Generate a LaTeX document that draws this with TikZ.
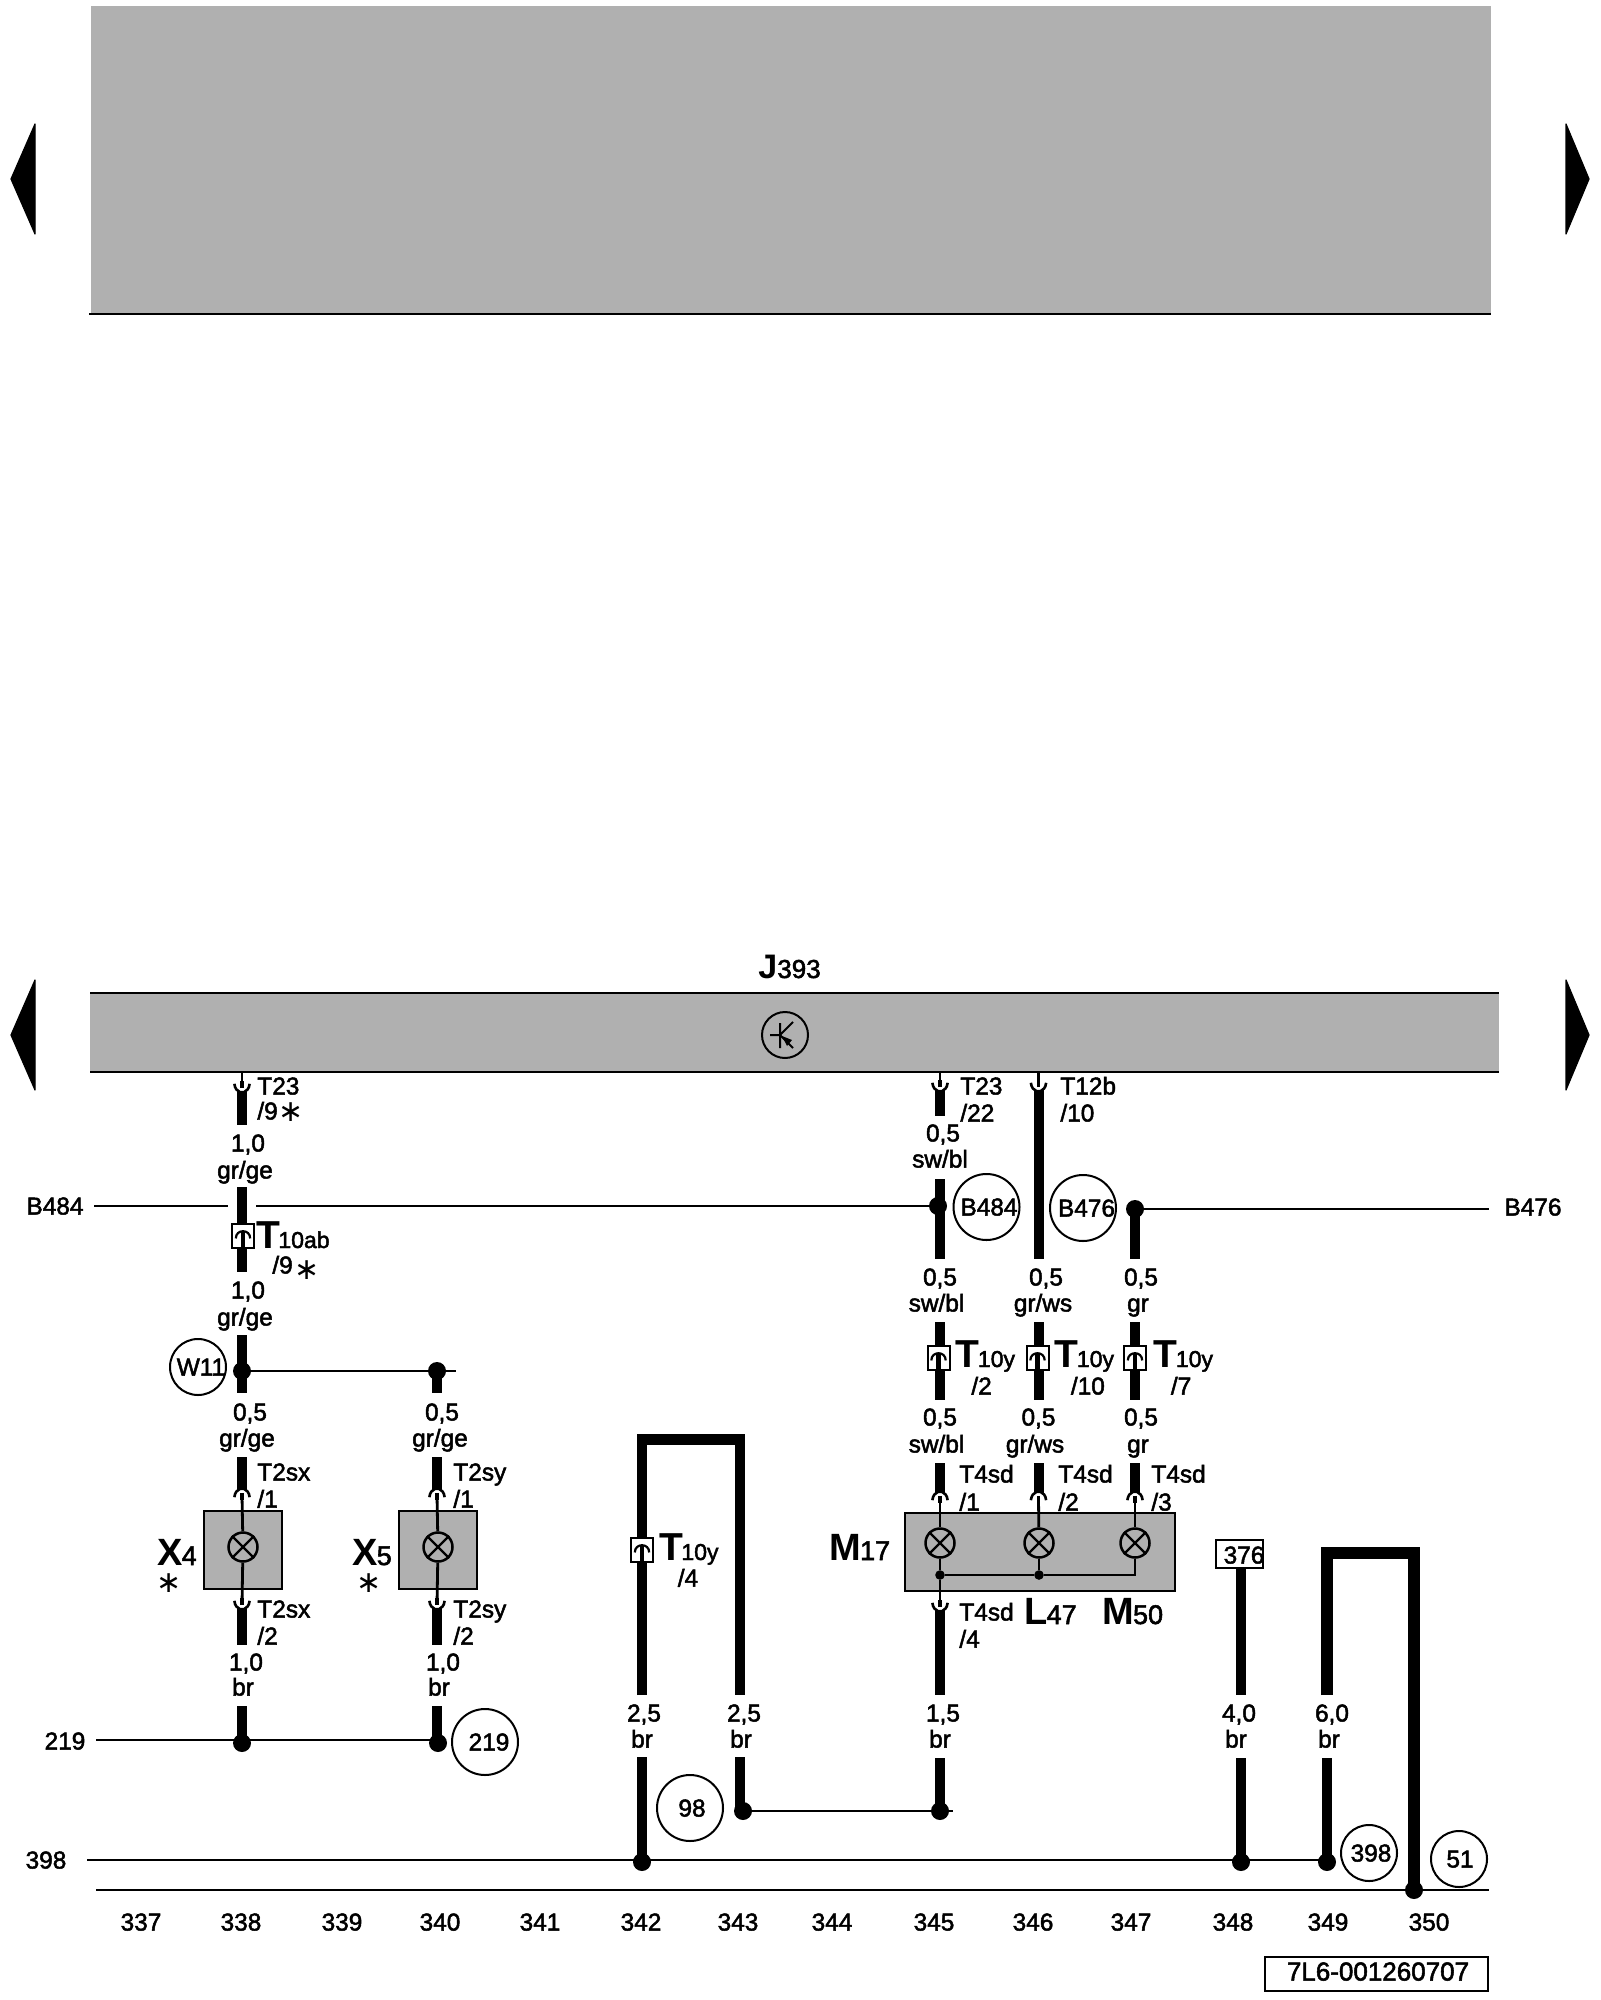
\documentclass[tikz,border=0pt]{standalone}
\usepackage{fontspec}
\setmainfont{Liberation Sans}[FakeBold=2]
\newfontfamily\bigfont{Liberation Sans Bold}
\newfontfamily\symfont{DejaVu Sans}
\definecolor{panel}{HTML}{B0B0B0}
\newcount\nn
\tikzset{
  x=0.5pt,y=-0.5pt,
  wire/.style={line width=5pt,line cap=butt,line join=miter},
  thinw/.style={line width=1.25pt},
  hair/.style={line width=1.4pt},
  dotn/.style={circle,fill=black,inner sep=0,minimum size=9pt},
  smalldot/.style={circle,fill=black,inner sep=0,minimum size=4.8pt},
  ringn/.style={circle,draw,line width=1pt,inner sep=0,minimum size=33pt},
  ringw/.style={circle,draw,line width=1pt,inner sep=0,minimum size=28pt},
  lampn/.style={circle,draw,line width=1.25pt,inner sep=0,minimum size=14.5pt},
  labn/.style={inner sep=0,font=\fontsize{12.2}{14}\selectfont},
  boxg/.style={draw,line width=1pt,fill=panel},
  connb/.style={draw,line width=1pt,fill=white,inner sep=0,minimum width=11pt,minimum height=12pt},
}
\newcommand{\lab}[3]{\global\advance\nn 1 \node[labn,anchor=base] (L\the\nn) at (#1,#2+8.5) {#3};}
\newcommand{\lef}[3]{\global\advance\nn 1 \node[labn,anchor=base west] (L\the\nn) at (#1,#2+8.5) {#3};}
\newcommand{\starm}[2]{\global\advance\nn 1 \node[inner sep=0,anchor=center] (L\the\nn) at (#1,#2) {\symfont\fontsize{15}{15}\selectfont ∗};}
\newcommand{\bigt}[3]{\global\advance\nn 1 \node[inner sep=0,anchor=base west] (L\the\nn) at (#1,#2) {{\bigfont\fontsize{19.5}{20}\selectfont T}\kern-.9pt\fontsize{11.5}{14}\selectfont #3};}
\newcommand{\bigmm}[4]{\global\advance\nn 1 \node[inner sep=0,anchor=base west] (L\the\nn) at (#1,#2) {{\bigfont\fontsize{19}{20}\selectfont #3}\kern-.5pt\fontsize{13.5}{14}\selectfont #4};}
\newcommand{\seg}[4]{\coordinate (#1a) at (#2,#3); \coordinate (#1b) at (#2,#4); \draw[wire] (#1a) -- (#1b);}
\newcommand{\cupdown}[3]{\coordinate (#1t) at (#2,#3);
  \draw[line width=1.3pt] ([xshift=-3.8pt,yshift=3.6pt]#1t) .. controls ([xshift=-3.6pt,yshift=1.2pt]#1t) and ([xshift=-2.4pt]#1t) .. ([xshift=-1pt,yshift=-.6pt]#1t) -- ([xshift=1pt,yshift=-.6pt]#1t) .. controls ([xshift=2.4pt]#1t) and ([xshift=3.6pt,yshift=1.2pt]#1t) .. ([xshift=3.8pt,yshift=3.6pt]#1t);
  \draw[line width=1.8pt] ([yshift=1.4pt]#1t) -- ([yshift=5pt]#1t);}
\newcommand{\cupup}[3]{\coordinate (#1t) at (#2,#3);
  \draw[line width=1.3pt] ([xshift=-3.8pt,yshift=-3.6pt]#1t) .. controls ([xshift=-3.6pt,yshift=-1.2pt]#1t) and ([xshift=-2.4pt]#1t) .. ([xshift=-1pt,yshift=.6pt]#1t) -- ([xshift=1pt,yshift=.6pt]#1t) .. controls ([xshift=2.4pt]#1t) and ([xshift=3.6pt,yshift=-1.2pt]#1t) .. ([xshift=3.8pt,yshift=-3.6pt]#1t);
  \draw[line width=1.8pt] ([yshift=-1.4pt]#1t) -- ([yshift=-5pt]#1t);}
\newcommand{\lamp}[3]{\node[lampn] (#1) at (#2,#3) {}; \draw[line width=1.1pt] (#1.45) -- (#1.225) (#1.135) -- (#1.-45);}
\newcommand{\conn}[3]{\node[connb] (#1) at (#2,#3) {};
  \draw[line width=1.1pt] ([xshift=-3.6pt,yshift=-1.2pt]#1.center) .. controls ([xshift=-3.6pt,yshift=3.6pt]#1.center) and ([xshift=3.6pt,yshift=3.6pt]#1.center) .. ([xshift=3.6pt,yshift=-1.2pt]#1.center);
  \draw[line width=2.2pt] ([yshift=1.8pt]#1.center) -- (#1.south);}
\begin{document}
\begin{tikzpicture}
\useasboundingbox (0,0) rectangle (1600,2000);
\fill[white] (0,0) rectangle (1600,2000);
% top blank panel
\coordinate (p1) at (91,6); \coordinate (p2) at (1491,313);
\fill[panel] (p1) rectangle (p2);
\coordinate (p3) at (89,314); \coordinate (p4) at (1491,314);
\draw[line width=1.1pt] (p3) -- (p4);
% navigation arrows
\fill[line join=round,draw,line width=.6pt] (35,124) -- (11,179) -- (35,234) -- cycle;
\fill[line join=round,draw,line width=.6pt] (1566,124) -- (1589,179) -- (1566,234) -- cycle;
\fill[line join=round,draw,line width=.6pt] (35,980) -- (11,1035) -- (35,1090) -- cycle;
\fill[line join=round,draw,line width=.6pt] (1566,980) -- (1589,1035) -- (1566,1090) -- cycle;
% J393 bar
\coordinate (bar1) at (90,993); \coordinate (bar2) at (1498.5,1072);
\fill[panel] (bar1) rectangle (bar2);
\draw[line width=1.1pt] (bar1) -- (bar1-|bar2) (bar1|-bar2) -- (bar2);
\global\advance\nn 1 \node[inner sep=0,anchor=base west] (L\the\nn) at (758,978) {{\bigfont\fontsize{17}{20}\selectfont J}\fontsize{13}{14}\selectfont 393};
\node[circle,draw,line width=1pt,inner sep=0,minimum size=23pt] (tr) at (785,1035) {};
\draw[line width=1pt] (780,1023) -- (780,1048) (770,1035) -- (780,1035) (780,1035) -- (793,1022);
\draw[line width=1pt] (780,1035) -- (793,1048);
\fill (782,1036) -- (792,1040) -- (787,1046) -- cycle;
% ---- column 338
\coordinate (a0) at (242,1072); \cupdown{a1}{242}{1091} \draw[hair] (a0) -- ([yshift=2pt]a1t);
\seg{a2}{242}{1091}{1125}
\lef{257}{1086}{T23} \lef{257}{1111}{/9} \starm{291}{1112}
\lab{248}{1143}{1,0} \lab{245}{1170}{gr/ge}
\seg{a3}{242}{1187}{1272}
\conn{ca}{243}{1236}
\bigt{256}{1248}{10ab}
\lef{272}{1265}{/9} \starm{307}{1270}
\lab{248}{1290}{1,0} \lab{245}{1317}{gr/ge}
\seg{a4}{242}{1335}{1393}
\node[dotn] (da) at (242,1371) {};
\node[ringw] (rw) at (198,1367) {};
\lab{201}{1367}{W11}
\node[dotn] (db) at (437,1371) {};
\seg{a5}{437}{1371}{1393}
\coordinate (we) at (456,1371);
\draw[thinw] (da) -- (db) -- (we);
\lab{250}{1412}{0,5} \lab{247}{1438}{gr/ge}
\lab{442}{1412}{0,5} \lab{440}{1438}{gr/ge}
% B484
\lab{55}{1206}{B484}
\coordinate (b1) at (94,1206); \coordinate (b2) at (228,1206); \coordinate (b3) at (256,1206);
\node[dotn] (db4) at (938,1206) {};
\draw[thinw] (b1) -- (b2) (b3) -- (db4);
% X4
\seg{a6}{242}{1457}{1490}
\node[boxg,minimum width=39pt,minimum height=39pt,inner sep=0] (x4) at (243,1550) {};
\cupup{a7}{242}{1490}
\lamp{l4}{243}{1547}
\draw[hair] ([yshift=-3pt]a7t) -- (l4);
\cupdown{a9}{242}{1608}
\draw[hair] (l4) -- ([yshift=2pt]a9t);
\seg{a10}{242}{1608}{1645}
\lef{257}{1472}{T2sx} \lef{257}{1499}{/1} \lef{257}{1609}{T2sx} \lef{257}{1636}{/2}
\bigmm{157}{1565}{X}{4} \starm{169}{1583}
\lab{246}{1662}{1,0} \lab{243}{1687}{br}
\seg{a11}{242}{1706}{1743}
% X5
\seg{b6}{437}{1457}{1490}
\node[boxg,minimum width=39pt,minimum height=39pt,inner sep=0] (x5) at (438,1550) {};
\cupup{b7}{437}{1490}
\lamp{l5}{438}{1547}
\draw[hair] ([yshift=-3pt]b7t) -- (l5);
\cupdown{b9}{437}{1608}
\draw[hair] (l5) -- ([yshift=2pt]b9t);
\seg{b10}{437}{1608}{1645}
\lef{453}{1472}{T2sy} \lef{453}{1499}{/1} \lef{453}{1609}{T2sy} \lef{453}{1636}{/2}
\bigmm{352}{1565}{X}{5} \starm{369}{1583}
\lab{443}{1662}{1,0} \lab{439}{1687}{br}
\seg{b11}{437}{1706}{1743}
% 219
\lab{65}{1741}{219}
\coordinate (w1) at (96,1740);
\node[dotn] (d219a) at (242,1743) {};
\node[dotn] (d219b) at (438,1743) {};
\draw[thinw] (w1) -- (w1-|d219b);
\node[ringn] (r219) at (485,1742) {};
\lab{489}{1742}{219}
% loop 342/343
\coordinate (u1) at (642,1695); \coordinate (u2) at (740,1695); \coordinate (ut) at (691,1439.5);
\draw[wire,line width=5.2pt] (u1) |- (ut) -| (u2);
\conn{cu}{642}{1550}
\bigt{659}{1560}{10y}
\lab{688}{1578}{/4}
\lab{644}{1713}{2,5} \lab{642}{1739}{br}
\lab{744}{1713}{2,5} \lab{741}{1739}{br}
\seg{u3}{642}{1757}{1860}
\seg{u4}{740}{1757}{1810}
\node[dotn] (du3) at (642,1862) {};
\node[dotn] (du4) at (743,1811) {};
\node[ringn] (r98) at (690,1808) {};
\lab{692}{1808}{98}
% column 345
\coordinate (c0) at (940,1072); \cupdown{c1}{940}{1090} \draw[hair] (c0) -- ([yshift=2pt]c1t);
\seg{c2}{940}{1090}{1116}
\lef{960}{1086}{T23} \lef{960}{1113}{/22}
\lab{943}{1133}{0,5} \lab{940}{1159}{sw/bl}
\seg{c3}{940}{1179}{1259}
\node[ringn] (r484) at (986.5,1207) {};
\lab{989}{1207}{B484}
% column 346
\coordinate (e0) at (1038.5,1072); \cupdown{e1}{1038.5}{1090} \draw[hair] (e0) -- ([yshift=2pt]e1t);
\seg{e2}{1038.5}{1090}{1259}
\lef{1060}{1086}{T12b} \lef{1060}{1113}{/10}
\node[ringn] (r476) at (1083,1208) {};
\lab{1086.5}{1208}{B476}
% column 347
\node[dotn] (dg) at (1135,1209) {};
\seg{g2}{1135}{1209}{1259}
\coordinate (g3) at (1489,1209);
\draw[thinw] (dg) -- (g3);
\lab{1533}{1207}{B476}
% labels under
\lab{940}{1277}{0,5} \lab{936.5}{1303}{sw/bl}
\lab{1046}{1277}{0,5} \lab{1043}{1303}{gr/ws}
\lab{1141}{1277}{0,5} \lab{1138}{1303}{gr}
% T10y row
\seg{c4}{940}{1322}{1400}
\seg{e4}{1038.5}{1322}{1400}
\seg{g4}{1135}{1322}{1400}
\conn{cc}{938.5}{1358} \conn{ce}{1037.5}{1358} \conn{cg}{1135}{1358}
\bigt{955.5}{1367}{10y} \bigt{1054.5}{1367}{10y} \bigt{1153.5}{1367}{10y}
\lef{971}{1386}{/2} \lef{1070.5}{1386}{/10} \lef{1170.5}{1386}{/7}
\lab{940}{1417}{0,5} \lab{936.5}{1444}{sw/bl}
\lab{1038.5}{1417}{0,5} \lab{1035}{1444}{gr/ws}
\lab{1141}{1417}{0,5} \lab{1138}{1444}{gr}
\seg{c5}{940}{1463}{1493} \seg{e5}{1038.5}{1463}{1493} \seg{g5}{1135}{1463}{1493}
\lef{959}{1474}{T4sd} \lef{959}{1502}{/1}
\lef{1058}{1474}{T4sd} \lef{1058}{1502}{/2}
\lef{1151}{1474}{T4sd} \lef{1151}{1502}{/3}
% M17 box
\coordinate (mb1) at (904.5,1513); \coordinate (mb2) at (1175,1591);
\draw[boxg] (mb1) rectangle (mb2);
\cupup{c6}{940}{1493} \cupup{e6}{1038.5}{1493} \cupup{g6}{1135}{1493}
\lamp{lc}{940}{1543} \lamp{le}{1039}{1543} \lamp{lg}{1135}{1543}
\draw[hair] ([yshift=-3pt]c6t) -- (lc);
\draw[hair] ([yshift=-3pt]e6t) -- (le);
\draw[hair] ([yshift=-3pt]g6t) -- (lg);
\node[smalldot] (j1) at (940,1575) {};
\node[smalldot] (j2) at (1039,1575) {};
\coordinate (j3) at (1135,1575);
\draw[hair] (lc) -- (j1) (le) -- (j2) (lg) -- (j3) -- (j2) -- (j1);
\cupdown{c7}{940}{1610}
\draw[hair] (j1) -- ([yshift=2pt]c7t);
\bigmm{829}{1560}{M}{17}
\bigmm{1024}{1624}{L}{47}
\bigmm{1102}{1624}{M}{50}
\lef{959}{1612}{T4sd} \lef{959}{1639}{/4}
\seg{c8}{940}{1610}{1695}
\lab{943}{1713}{1,5} \lab{940}{1739}{br}
\seg{c9}{940}{1758}{1811}
\node[dotn] (dc) at (940,1811) {};
\coordinate (ce2) at (953,1811);
\draw[thinw] (du4) -- (dc) -- (ce2);
% 376
\node[draw,line width=1pt,inner sep=0,minimum width=23.5pt,minimum height=14pt,fill=white] (b376) at (1239.5,1554) {};
\lab{1244}{1555}{376}
\seg{h1}{1241}{1568}{1695}
\lab{1239}{1713}{4,0} \lab{1236}{1739}{br}
\seg{h2}{1241}{1758}{1860}
\node[dotn] (dh) at (1241,1862) {};
% loop 349/350
\coordinate (v1) at (1327,1695); \coordinate (v2) at (1414,1890); \coordinate (vt) at (1370,1553);
\draw[wire,line width=5.6pt] (v1) |- (vt) -| (v2);
\lab{1332}{1713}{6,0} \lab{1329}{1739}{br}
\seg{v3}{1327}{1758}{1860}
\node[dotn] (dv1) at (1327,1862) {};
\node[dotn] (dv2) at (1414,1890) {};
\node[ringw] (r398) at (1369,1853) {};
\lab{1371}{1853}{398}
\node[ringw] (r51) at (1459,1859) {};
\lab{1460}{1859}{51}
% 398 line
\lab{46}{1860}{398}
\coordinate (z1) at (87,1860);
\draw[thinw] (z1) -- (z1-|dv1);
% bottom rule
\coordinate (z2) at (96,1890); \coordinate (z3) at (1489,1890);
\draw[thinw] (z2) -- (z3);
% track numbers
\lab{141}{1922}{337} \lab{241}{1922}{338} \lab{342}{1922}{339} \lab{440}{1922}{340}
\lab{540}{1922}{341} \lab{641}{1922}{342} \lab{738}{1922}{343} \lab{832}{1922}{344}
\lab{934}{1922}{345} \lab{1033}{1922}{346} \lab{1131}{1922}{347} \lab{1233}{1922}{348}
\lab{1328}{1922}{349} \lab{1429}{1922}{350}
% code box
\node[draw,line width=1pt,inner sep=0,minimum width=111.5pt,minimum height=17pt] (code) at (1376,1973.5) {};
\global\advance\nn 1 \node[labn,anchor=base,font=\fontsize{13}{14}\selectfont] (L\the\nn) at (1378,1980.5) {7L6-001260707};
\end{tikzpicture}
\end{document}
